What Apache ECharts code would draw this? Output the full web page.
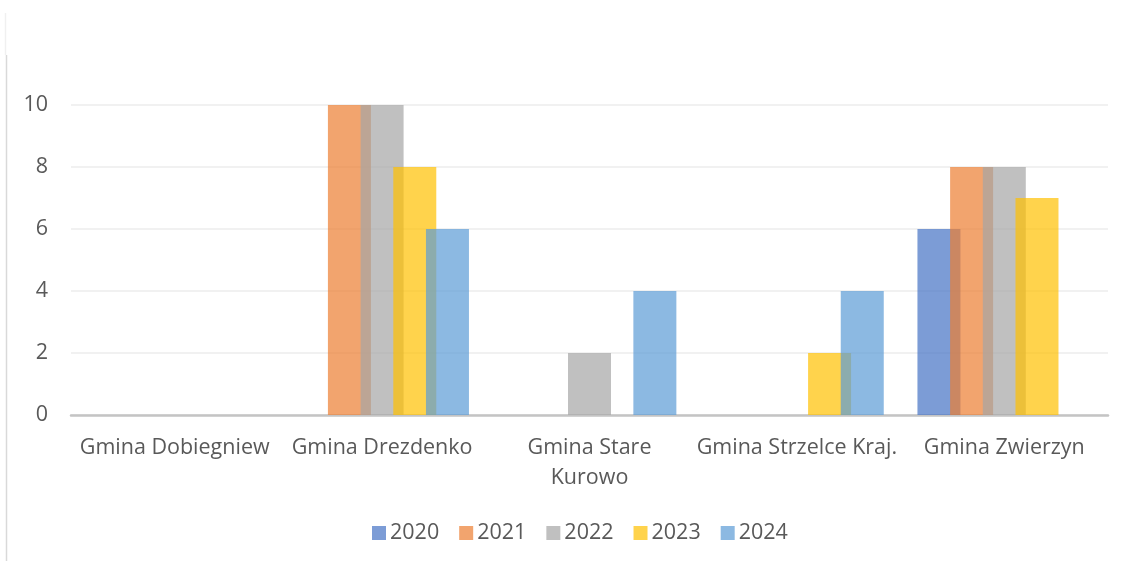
<!DOCTYPE html>
<html>
<head>
<meta charset="utf-8">
<script src="https://cdn.jsdelivr.net/npm/echarts@6/dist/echarts.min.js"></script>
<style>
html,body{margin:0;padding:0;background:#fff;}
#chart{width:1128px;height:561px;}
</style>
</head>
<body>
<div id="chart"></div>
<script>
// gminy (kategorie)
var categories = ['Gmina Dobiegniew', 'Gmina Drezdenko', 'Gmina Stare\nKurowo', 'Gmina Strzelce Kraj.', 'Gmina Zwierzyn'];
var years = ['2020', '2021', '2022', '2023', '2024'];
var v2020 = [0, 0, 0, 0, 6];
var v2021 = [0, 10, 0, 0, 8];
var v2022 = [0, 10, 2, 0, 8];
var v2023 = [0, 8, 0, 2, 7];
var v2024 = [0, 6, 4, 4, 0];
var yTicks = [0, 2, 4, 6, 8, 10];

var colors = ['#4472C4', '#ED7D31', '#A5A5A5', '#FFC000', '#5B9BD5'];
var values = [v2020, v2021, v2022, v2023, v2024];
var txt = '#595959';
var font = '"Open Sans", sans-serif';
var fs = 21.5;

var series = [];
for (var i = 0; i < years.length; i++) {
	series.push({
		name: years[i],
		type: 'bar',
		data: values[i],
		barWidth: 43,
		barGap: '-24%',
		itemStyle: {color: colors[i], opacity: 0.7},
		emphasis: {disabled: true}
	});
}

var myChart = echarts.init(document.getElementById('chart'));
var option = {
	animation: false,
	textStyle: {fontFamily: font},
	grid: {left: 71, right: 20, top: 105, bottom: 146, containLabel: false},
	legend: {
		bottom: 12,
		left: 367,
		icon: 'rect',
		itemWidth: 14,
		itemHeight: 14,
		itemGap: 20,
		textStyle: {color: txt, fontSize: fs, fontFamily: font, padding: [0, 0, 0, -1]},
		data: years
	},
	xAxis: {
		type: 'category',
		data: categories,
		axisLine: {lineStyle: {color: '#c4c4c4', width: 2.5}},
		axisTick: {show: false},
		axisLabel: {color: txt, fontSize: fs, fontFamily: font, margin: 18, lineHeight: 30, interval: 0}
	},
	yAxis: {
		type: 'value',
		min: yTicks[0],
		max: yTicks[yTicks.length - 1],
		interval: 2,
		axisLine: {show: false},
		axisTick: {show: false},
		axisLabel: {color: txt, fontSize: fs, fontFamily: font, margin: 23},
		splitLine: {lineStyle: {color: '#ececec', width: 1.5}}
	},
	graphic: [
		{type: 'line', shape: {x1: 5.5, y1: 13, x2: 5.5, y2: 55}, style: {stroke: '#f0f0f0', lineWidth: 1.5}},
		{type: 'line', shape: {x1: 6.5, y1: 55, x2: 6.5, y2: 561}, style: {stroke: '#d9d9d9', lineWidth: 1.5}}
	],
	series: series
};
myChart.setOption(option);
</script>
</body>
</html>
